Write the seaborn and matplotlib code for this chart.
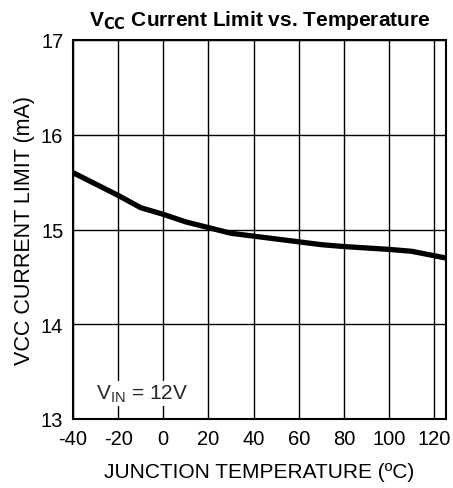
import matplotlib
matplotlib.use("Agg")
import matplotlib.pyplot as plt
import seaborn as sns
import pandas as pd

temperature = [-40, -20, -10, 0, 10, 20, 30, 40, 60, 70, 80, 100, 110, 125]
current_limit = [15.60, 15.36, 15.23, 15.16, 15.08, 15.02, 14.96, 14.93, 14.87, 14.84, 14.82, 14.79, 14.77, 14.70]
x_ticks = [-40, -20, 0, 20, 40, 60, 80, 100, 120]
y_ticks = [13, 14, 15, 16, 17]

sns.set_theme(style="white")
plt.rcParams['font.family'] = ['Liberation Sans', 'DejaVu Sans']
plt.rcParams['axes.unicode_minus'] = False

df = pd.DataFrame({"T": temperature, "I": current_limit})

fig = plt.figure(figsize=(4.53, 4.89), dpi=100)
ax = fig.add_axes([73/453, 1-420/489, (445.5-73)/453, (420-41)/489])
sns.lineplot(data=df, x="T", y="I", ax=ax, color="black", linewidth=3.8)

ax.set_xlim(-40, 125)
ax.set_ylim(13, 17)
ax.set_xticks(x_ticks)
ax.set_yticks(y_ticks)
ax.grid(True, color="black", linewidth=1.0)
ax.set_axisbelow(True)
for s in ax.spines.values():
    s.set_color("black")
    s.set_linewidth(1.5)
ax.tick_params(axis="x", length=0, labelsize=14.5, colors="black", pad=7)
ax.tick_params(axis="y", length=0, labelsize=14.5, colors="black", pad=7)
ax.set_xlabel("JUNCTION TEMPERATURE (ºC)", fontsize=15, color="black", labelpad=10)
ax.set_ylabel("VCC CURRENT LIMIT (mA)", fontsize=15.5, color="black", labelpad=4)
ax.set_title(r"V$_{\mathbf{CC}}$ Current Limit vs. Temperature", fontsize=15, fontweight="bold", color="black", pad=11)
ax.text(-9.6, 13.27, r"V$_{\mathregular{IN}}$ = 12V", fontsize=15, ha="center", va="center",
        bbox=dict(facecolor="white", edgecolor="none", pad=1))

fig.savefig("out.png", dpi=100)
